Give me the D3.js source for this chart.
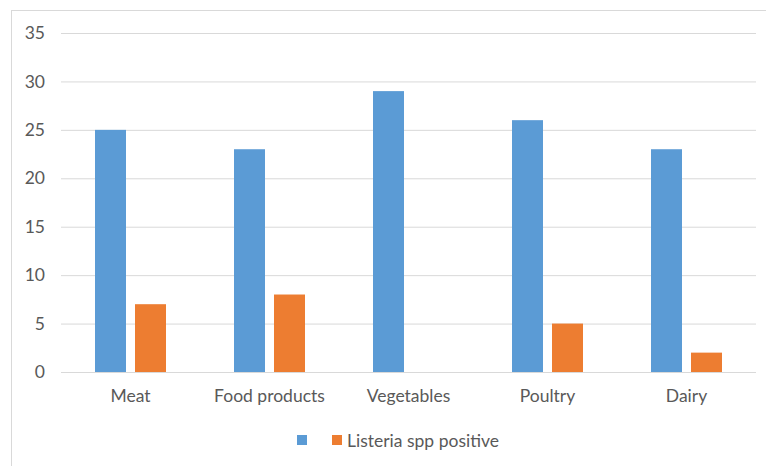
<!DOCTYPE html>
<html>
<head>
<meta charset="utf-8">
<script src="https://cdn.jsdelivr.net/npm/d3@7"></script>
<style>
  html, body { margin: 0; padding: 0; background: #fff; }
  svg { display: block; }
  text { font-family: Lato, "Open Sans", sans-serif; fill: #595959; }
</style>
</head>
<body>
<svg id="chart" width="766" height="466"></svg>
<script>
// Samples by food category
const categories = ["Meat", "Food products", "Vegetables", "Poultry", "Dairy"];
const seriesNames = ["", "Listeria spp positive"];
const totalSamples = [25, 23, 29, 26, 23];
const listeriaPositive = [7, 8, 0, 5, 2];
const yTicks = [0, 5, 10, 15, 20, 25, 30, 35];
const colors = ["#5B9BD5", "#ED7D31"];

const seriesValues = [totalSamples, listeriaPositive];
const rows = categories.map((c, i) => ({
  category: c,
  values: seriesValues.map((vals, s) => ({ series: s, value: vals[i] }))
}));

const svg = d3.select("#chart");
const W = 766, H = 466;
const plot = { left: 61, right: 756, top: 33, bottom: 372 };
const fontSize = 17.5;

// chart frame
svg.append("rect")
  .attr("x", 11.5).attr("y", 10.5)
  .attr("width", W + 10).attr("height", H + 10)
  .attr("fill", "#fff")
  .attr("stroke", "#D9D9D9").attr("stroke-width", 1);

const y = d3.scaleLinear().domain([0, 35]).range([plot.bottom, plot.top]);

const groupShare = 71 / 139;
const x0 = d3.scaleBand()
  .domain(categories)
  .range([plot.left, plot.right])
  .paddingInner(1 - groupShare)
  .paddingOuter((1 - groupShare) / 2);

const x1 = d3.scaleBand()
  .domain(d3.range(seriesNames.length))
  .range([0, x0.bandwidth()])
  .paddingInner(9 / 40)
  .paddingOuter(0);

// gridlines + y labels
const yAxis = d3.axisLeft(y)
  .tickValues(yTicks)
  .tickSize(-(plot.right - plot.left))
  .tickPadding(16)
  .tickFormat(d3.format("d"));

const gy = svg.append("g")
  .attr("transform", `translate(${plot.left},0)`)
  .call(yAxis);
gy.select(".domain").remove();
gy.selectAll(".tick line").attr("stroke", "#D9D9D9").attr("stroke-width", 1);
gy.selectAll(".tick text")
  .attr("font-size", fontSize)
  .style("font-family", "Lato, sans-serif")
  .attr("fill", "#595959");

// bars
const groups = svg.append("g").selectAll("g")
  .data(rows)
  .join("g")
  .attr("transform", d => `translate(${x0(d.category)},0)`);

groups.selectAll("rect")
  .data(d => d.values)
  .join("rect")
  .attr("x", d => x1(d.series))
  .attr("width", x1.bandwidth())
  .attr("y", d => y(d.value))
  .attr("height", d => y(0) - y(d.value))
  .attr("fill", d => colors[d.series]);

// x labels
const xAxis = d3.axisBottom(x0).tickSize(0).tickPadding(18);
const gx = svg.append("g")
  .attr("transform", `translate(0,${plot.bottom})`)
  .call(xAxis);
gx.select(".domain").remove();
gx.selectAll(".tick text")
  .attr("font-size", fontSize)
  .style("font-family", "Lato, sans-serif")
  .attr("fill", "#595959");

// legend
const legend = svg.append("g").attr("transform", "translate(297,435)");
const swatchX = [0, 35];
seriesNames.forEach((name, i) => {
  legend.append("rect")
    .attr("x", swatchX[i]).attr("y", 0)
    .attr("width", 10).attr("height", 10)
    .attr("fill", colors[i]);
  if (name) {
    legend.append("text")
      .attr("x", swatchX[i] + 15).attr("y", 11.5)
      .attr("font-size", fontSize)
      .text(name);
  }
});
</script>
</body>
</html>
